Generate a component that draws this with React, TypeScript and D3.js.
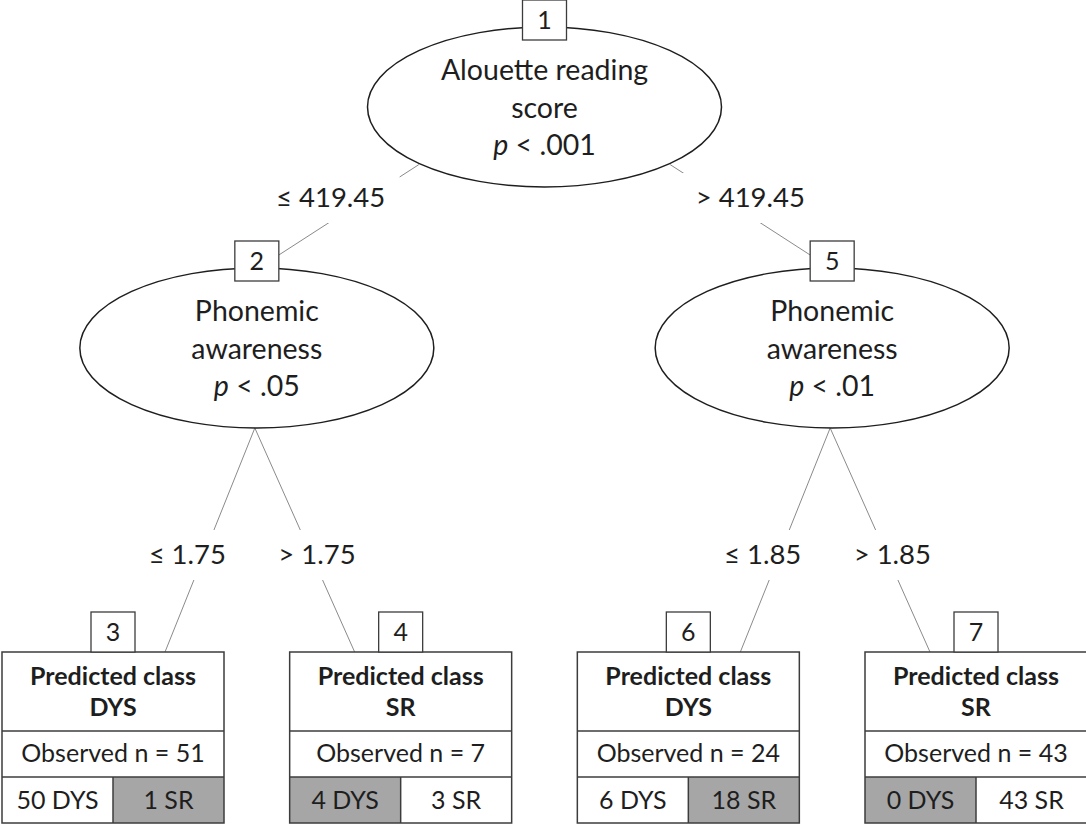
import { hierarchy, tree, HierarchyPointNode } from "d3";

// node content
const innerIds = [1, 2, 5];
const innerLabels = [
  ["Alouette reading", "score"],
  ["Phonemic", "awareness"],
  ["Phonemic", "awareness"],
];
const innerP = ["< .001", "< .05", "< .01"];

// split labels, in the order of the edges (1-2, 1-5, 2-3, 2-4, 5-6, 5-7)
const splitLabels = ["≤ 419.45", "> 419.45", "≤ 1.75", "> 1.75", "≤ 1.85", "> 1.85"];

// terminal nodes
const leafIds = [3, 4, 6, 7];
const leafClass = ["DYS", "SR", "DYS", "SR"];
const leafN = [51, 7, 24, 43];
const leafDYS = [50, 4, 6, 0];
const leafSR = [1, 3, 18, 43];

type TreeNode = {
  id: number;
  edge?: string;
  inner?: number;
  leaf?: number;
  children?: TreeNode[];
};

const leafNode = (i: number, edge: string): TreeNode => ({ id: leafIds[i], leaf: i, edge });

const treeData: TreeNode = {
  id: innerIds[0],
  inner: 0,
  children: [
    {
      id: innerIds[1],
      inner: 1,
      edge: splitLabels[0],
      children: [leafNode(0, splitLabels[2]), leafNode(1, splitLabels[3])],
    },
    {
      id: innerIds[2],
      inner: 2,
      edge: splitLabels[1],
      children: [leafNode(2, splitLabels[4]), leafNode(3, splitLabels[5])],
    },
  ],
};

const width = 1086;
const height = 825;
const font = "Lato, 'Open Sans', sans-serif";
const ink = "#1e1e1e";
const boxStroke = "#3c3c3c";
const lineColor = "#8a8a8a";
const grey = "#a6a6a6";

const leafLeft = 113;
const leafRight = 976;
const leafW = 222;
const leafTop = 652;
const rowH = [79, 46, 46];
const ellipseY = [107, 348];
const rx = 177;
const ry = 80;
const numW = 44;
const numH = 40;

export default function App() {
  const root = hierarchy(treeData);
  // d3.tree pads half a separation at each end, so widen the span to land leaves on leafLeft..leafRight
  const nLeaves = root.leaves().length;
  const span = ((leafRight - leafLeft) * nLeaves) / (nLeaves - 1);
  const offset = leafLeft - span / (2 * nLeaves);
  const layout = tree<TreeNode>()
    .size([span, 1])
    .separation(() => 1);
  const nodes = layout(root);
  const X = (n: HierarchyPointNode<TreeNode>) => n.x + offset;

  const edges = nodes.links().map((l) => {
    const p = l.source;
    const c = l.target;
    const side = X(c) < X(p) ? -1 : 1;
    let x1, y1, x2, y2, ly, off;
    if (c.data.leaf === undefined) {
      x1 = X(p) + side * 0.71 * rx;
      y1 = ellipseY[p.depth] + 0.72 * ry;
      x2 = X(c) - side * (numW / 2);
      y2 = ellipseY[c.depth] - ry - 27 + 14;
      ly = 197;
      off = side < 0 ? -38 : 30;
    } else {
      x1 = X(p) - 2;
      y1 = ellipseY[p.depth] + ry;
      x2 = X(c) + (side < 0 ? 52 : -46);
      y2 = leafTop;
      ly = 554;
      off = side < 0 ? -17 : 6;
    }
    const t = (ly - y1) / (y2 - y1);
    const lx = x1 + t * (x2 - x1) + off;
    return { x1, y1, x2, y2, lx, ly, label: c.data.edge as string, key: `${p.data.id}-${c.data.id}` };
  });

  const inner = nodes.descendants().filter((n) => n.data.inner !== undefined);
  const leaves = nodes.leaves();

  const numBox = (id: number, cx: number, top: number) => (
    <g key={`num-${id}`}>
      <rect x={cx - numW / 2} y={top} width={numW} height={numH} fill="white" stroke={boxStroke} strokeWidth={1.3} />
      <text x={cx} y={top + 29} textAnchor="middle" fontSize={25} fill={ink}>
        {id}
      </text>
    </g>
  );

  return (
    <svg
      width={width}
      height={height}
      viewBox={`0 0 ${width} ${height}`}
      style={{ position: "absolute", left: 0, top: 0, background: "white" }}
      fontFamily={font}
    >
      {/* edges */}
      {edges.map((e) => (
        <line key={e.key} x1={e.x1} y1={e.y1} x2={e.x2} y2={e.y2} stroke={lineColor} strokeWidth={1} />
      ))}
      {edges.map((e) => {
        const w = e.label.length * 14.5 + 22;
        return (
          <g key={`lab-${e.key}`}>
            <rect x={e.lx - w / 2} y={e.ly - 24} width={w} height={50} fill="white" />
            <text x={e.lx} y={e.ly + 10} textAnchor="middle" fontSize={27.5} fill={ink}>
              {e.label}
            </text>
          </g>
        );
      })}

      {/* inner nodes */}
      {inner.map((n) => {
        const i = n.data.inner as number;
        const cx = X(n);
        const cy = ellipseY[n.depth];
        return (
          <g key={`inner-${n.data.id}`}>
            <ellipse cx={cx} cy={cy} rx={rx} ry={ry} fill="white" stroke={ink} strokeWidth={1.5} />
            <text textAnchor="middle" fontSize={28.5} fill={ink}>
              <tspan x={cx} y={cy - 27}>{innerLabels[i][0]}</tspan>
              <tspan x={cx} y={cy + 11}>{innerLabels[i][1]}</tspan>
              <tspan x={cx} y={cy + 48}>
                <tspan fontStyle="italic">p</tspan>
                {` ${innerP[i]}`}
              </tspan>
            </text>
            {numBox(n.data.id, cx, cy - ry - 27)}
          </g>
        );
      })}

      {/* terminal nodes */}
      {leaves.map((n) => {
        const i = n.data.leaf as number;
        const cx = X(n);
        const left = cx - leafW / 2;
        const r1 = leafTop + rowH[0];
        const r2 = r1 + rowH[1];
        const r3 = r2 + rowH[2];
        const dysGrey = leafClass[i] !== "DYS";
        return (
          <g key={`leaf-${n.data.id}`}>
            <rect x={left} y={leafTop} width={leafW} height={r3 - leafTop} fill="white" />
            <rect x={left} y={r2} width={leafW / 2} height={rowH[2]} fill={dysGrey ? grey : "white"} />
            <rect x={cx} y={r2} width={leafW / 2} height={rowH[2]} fill={dysGrey ? "white" : grey} />
            <rect x={left} y={leafTop} width={leafW} height={r3 - leafTop} fill="none" stroke={boxStroke} strokeWidth={1.5} />
            <line x1={left} x2={left + leafW} y1={r1} y2={r1} stroke={boxStroke} strokeWidth={1.5} />
            <line x1={left} x2={left + leafW} y1={r2} y2={r2} stroke={boxStroke} strokeWidth={1.5} />
            <line x1={cx} x2={cx} y1={r2} y2={r3} stroke={boxStroke} strokeWidth={1.5} />
            <text textAnchor="middle" fontSize={25} fontWeight="bold" fill={ink}>
              <tspan x={cx} y={leafTop + 33}>Predicted class</tspan>
              <tspan x={cx} y={leafTop + 64}>{leafClass[i]}</tspan>
            </text>
            <text x={cx} y={r1 + 31} textAnchor="middle" fontSize={25} fill={ink}>
              {`Observed n = ${leafN[i]}`}
            </text>
            <text x={left + leafW / 4} y={r2 + 32} textAnchor="middle" fontSize={25} fill={ink}>
              {`${leafDYS[i]} DYS`}
            </text>
            <text x={cx + leafW / 4} y={r2 + 32} textAnchor="middle" fontSize={25} fill={ink}>
              {`${leafSR[i]} SR`}
            </text>
            {numBox(n.data.id, cx, leafTop - numH)}
          </g>
        );
      })}
    </svg>
  );
}
